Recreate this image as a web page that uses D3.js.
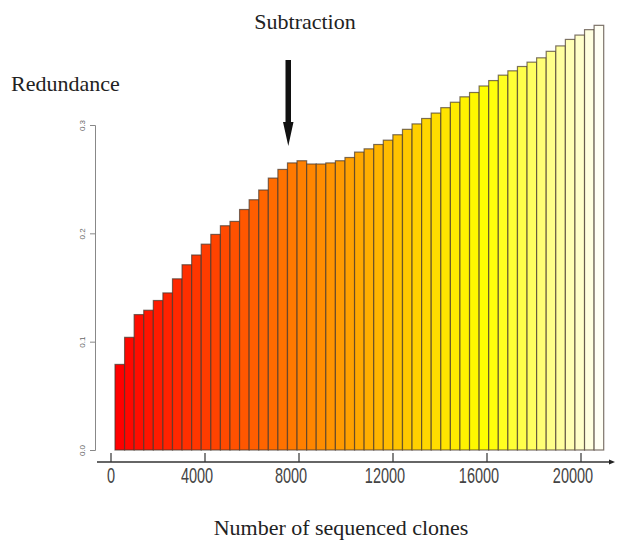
<!DOCTYPE html>
<html lang="en">
<head>
<meta charset="UTF-8">
<script src="https://d3js.org/d3.v7.min.js"></script>
<title>Redundance</title>
<style>
body {
  margin: 0;
  background: white;
}
.title {
  font-family: "Liberation Serif", "Times New Roman", serif;
  font-size: 22px;
  fill: #222;
}
.xlab {
  font-family: "Liberation Sans", Arial, sans-serif;
  font-size: 14.5px;
  fill: #444;
}
.ylab {
  font-family: "Liberation Sans", Arial, sans-serif;
  font-size: 8px;
  fill: #666;
}
</style>
</head>
<body>
<div id="chart"></div>
<script>
// clones sequenced per bar (end of each step of 400)
var clones = [400, 800, 1200, 1600, 2000, 2400, 2800, 3200, 3600, 4000,
  4400, 4800, 5200, 5600, 6000, 6400, 6800, 7200, 7600, 8000,
  8400, 8800, 9200, 9600, 10000, 10400, 10800, 11200, 11600, 12000,
  12400, 12800, 13200, 13600, 14000, 14400, 14800, 15200, 15600, 16000,
  16400, 16800, 17200, 17600, 18000, 18400, 18800, 19200, 19600, 20000, 20400];

var redundance = [0.079, 0.104, 0.125, 0.129, 0.138, 0.145, 0.158, 0.171, 0.180, 0.190,
  0.199, 0.207, 0.211, 0.222, 0.231, 0.240, 0.251, 0.259, 0.265, 0.267,
  0.264, 0.264, 0.265, 0.267, 0.270, 0.275, 0.278, 0.282, 0.286, 0.291,
  0.296, 0.301, 0.306, 0.311, 0.316, 0.321, 0.326, 0.330, 0.336, 0.341,
  0.346, 0.350, 0.354, 0.358, 0.362, 0.368, 0.373, 0.379, 0.383, 0.388, 0.392];

var xTicks = [0, 4000, 8000, 12000, 16000, 20000];
var yTicks = [0, 0.1, 0.2, 0.3];

var W = 618, H = 541;

var svg = d3.select("#chart").append("svg")
  .attr("width", W)
  .attr("height", H);

// R style heat.colors palette
function heat(n) {
  var j = Math.floor(n / 4), i = n - j, out = [];
  for (var k = 0; k < i; k++) {
    var h = (k / (i - 1)) * 60;
    out.push(d3.rgb(255, Math.round(255 * h / 60), 0).formatHex());
  }
  for (var k = 0; k < j; k++) {
    var s = (1 - 1 / (2 * j)) - k * ((1 - 1 / j) / (j - 1));
    out.push(d3.rgb(255, 255, Math.round(255 * (1 - s))).formatHex());
  }
  return out;
}
var colors = heat(clones.length);

// bars use their own band scale, the axis is drawn on top (like barplot + axis)
var xb = d3.scaleBand()
  .domain(clones)
  .range([115, 603.7])
  .padding(0);

var x = d3.scaleLinear()
  .domain([0, 20000])
  .range([111, 581]);

var y = d3.scaleLinear()
  .domain([0, 0.3])
  .range([450, 125]);

svg.append("g").selectAll("rect")
  .data(redundance)
  .enter().append("rect")
    .attr("x", function(d, i) { return xb(clones[i]); })
    .attr("y", function(d) { return y(d); })
    .attr("width", xb.bandwidth())
    .attr("height", function(d) { return y(0) - y(d); })
    .attr("fill", function(d, i) { return colors[i]; })
    .attr("stroke", "rgba(70,55,45,0.7)")
    .attr("stroke-width", 1.2);

// y axis (gray, rotated labels)
var yAxis = svg.append("g")
  .attr("transform", "translate(95,0)")
  .call(d3.axisLeft(y).tickValues(yTicks).tickSize(5).tickFormat(d3.format(".1f")));
yAxis.select(".domain").attr("stroke", "#888");
yAxis.selectAll(".tick line").attr("stroke", "#888");
yAxis.selectAll(".tick text")
  .attr("class", "ylab")
  .attr("x", null).attr("dy", null)
  .attr("text-anchor", "middle")
  .attr("transform", "translate(-10,0) rotate(-90)");

// x axis with arrow
svg.append("defs").append("marker")
  .attr("id", "arr")
  .attr("viewBox", "0 0 10 10")
  .attr("refX", 2).attr("refY", 5)
  .attr("markerWidth", 5).attr("markerHeight", 5)
  .attr("orient", "auto")
  .append("path").attr("d", "M0,1L10,5L0,9Z").attr("fill", "#222");

svg.append("line")
  .attr("x1", 97).attr("x2", 610)
  .attr("y1", 462).attr("y2", 462)
  .attr("stroke", "#333").attr("stroke-width", 1.3)
  .attr("marker-end", "url(#arr)");

var xt = svg.append("g").selectAll("g")
  .data(xTicks)
  .enter().append("g")
    .attr("transform", function(d) { return "translate(" + x(d) + ",0)"; });
xt.append("line")
  .attr("y1", 453).attr("y2", 462)
  .attr("stroke", "#333").attr("stroke-width", 1.2);
xt.append("text")
  .attr("class", "xlab")
  .attr("text-anchor", "middle")
  .attr("transform", function(d) { return "translate(" + (d === 0 ? 0 : -8) + ",483) scale(1,1.55)"; })
  .text(function(d) { return d; });

// titles
svg.append("text").attr("class", "title")
  .attr("x", 11).attr("y", 91)
  .text("Redundance");

svg.append("text").attr("class", "title")
  .attr("x", 305).attr("y", 29)
  .attr("text-anchor", "middle")
  .text("Subtraction");

svg.append("text").attr("class", "title")
  .attr("x", 341).attr("y", 535)
  .attr("text-anchor", "middle")
  .text("Number of sequenced clones");

// subtraction arrow
svg.append("path")
  .attr("d", "M285.5,60 L291,60 L291,122 L293.5,122 L288.3,146 L283,122 L285.5,122 Z")
  .attr("fill", "#111");
</script>
</body>
</html>
